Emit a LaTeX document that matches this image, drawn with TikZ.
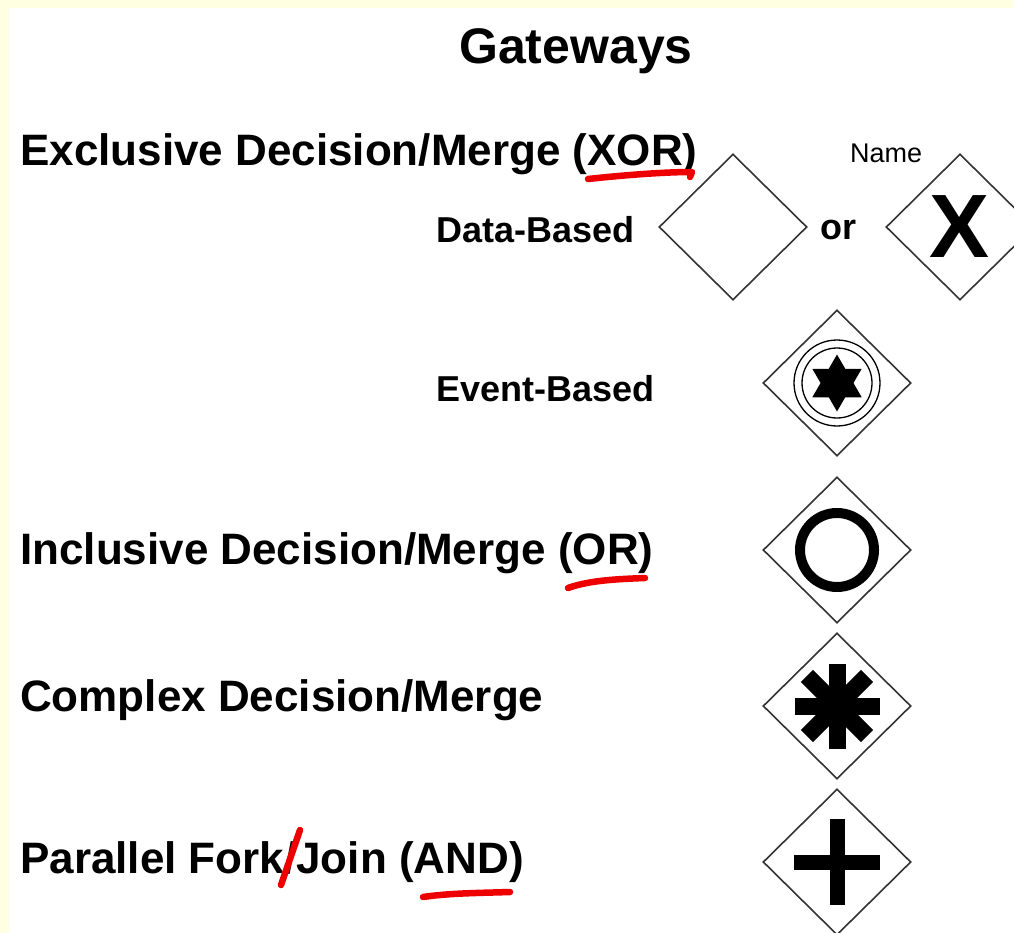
\documentclass[tikz,border=0pt]{standalone}
\usepackage{fontspec}
\setmainfont{Liberation Sans}
\usepackage{tikz}
\usetikzlibrary{shapes.geometric}
\definecolor{pageyellow}{RGB}{255,255,226}
\definecolor{markred}{RGB}{238,0,0}

\begin{document}
\begin{tikzpicture}[x=1pt, y=-1pt,
  gate/.style={shape=diamond, draw=black!80, line width=1.6pt, inner sep=0pt, minimum width=148pt, minimum height=146pt},
  bigtext/.style={font=\fontsize{44}{52}\selectfont\bfseries, anchor=base west, inner sep=0pt},
  subtext/.style={font=\fontsize{36}{42}\selectfont\bfseries, anchor=base west, inner sep=0pt},
  scribble/.style={markred, line width=6.5pt, line cap=round, line join=round}]
\useasboundingbox (0,0) rectangle (1014,933);
\fill[pageyellow] (0,0) rectangle (1014,933);
\fill[white] (9,8) rectangle (1014,933);

\node[font=\fontsize{50}{56}\selectfont\bfseries, anchor=base, inner sep=0pt] (title) at (576,64) {Gateways};

\node[bigtext] (xorlab) at (20,166) {Exclusive Decision/Merge (XOR)};
\node[font=\fontsize{27}{32}\selectfont, anchor=base west, inner sep=0pt] (namelab) at (850,163) {Name};
\node[subtext] (datalab) at (436,243) {Data-Based};
\node[subtext] (orlab) at (820,240) {or};
\node[subtext] (eventlab) at (436,401) {Event-Based};
\node[bigtext] (incllab) at (20,564) {Inclusive Decision/Merge (OR)};
\node[bigtext] (cplxlab) at (20,711) {Complex Decision/Merge};
\node[bigtext] (paralab) at (20,873) {Parallel Fork/Join (AND)};

\node[gate] (datagate) at (733,227) {};
\node[gate] (xgate) at (960,227) {};
\node[font=\fontsize{90}{90}\selectfont\bfseries, inner sep=0pt] (xmark) at (xgate.center) {X};

\node[gate] (eventgate) at (837,383) {};
\draw[line width=1.3pt] (eventgate.center) circle[radius=43pt] (eventgate.center) circle[radius=35pt];
\fill[shift={(eventgate.center)}] (90:28.5pt) -- (210:28.5pt) -- (330:28.5pt) -- cycle
  (270:28.5pt) -- (30:28.5pt) -- (150:28.5pt) -- cycle;

\node[gate] (inclgate) at (837,550) {};
\draw[line width=10pt] (inclgate.center) circle[radius=37pt];

\node[gate] (cplxgate) at (837,706) {};
\foreach \ang in {0,45,90,135}
  \draw[line width=17pt] ([shift={(\ang:42.5pt)}]cplxgate.center) -- ([shift={(\ang+180:42.5pt)}]cplxgate.center);

\node[gate] (paragate) at (837,862) {};
\foreach \ang in {0,90}
  \draw[line width=15pt] ([shift={(\ang:43pt)}]paragate.center) -- ([shift={(\ang+180:43pt)}]paragate.center);

\draw[scribble] (588,179) .. controls (625,175) and (665,172) .. (692,172) -- (690,177);
\draw[scribble] (568,588) .. controls (590,580) and (620,579) .. (645,578);
\draw[scribble] (300,830) -- (281,885);
\draw[scribble] (423,897) .. controls (450,893) and (480,893) .. (510,892);
\end{tikzpicture}
\end{document}
